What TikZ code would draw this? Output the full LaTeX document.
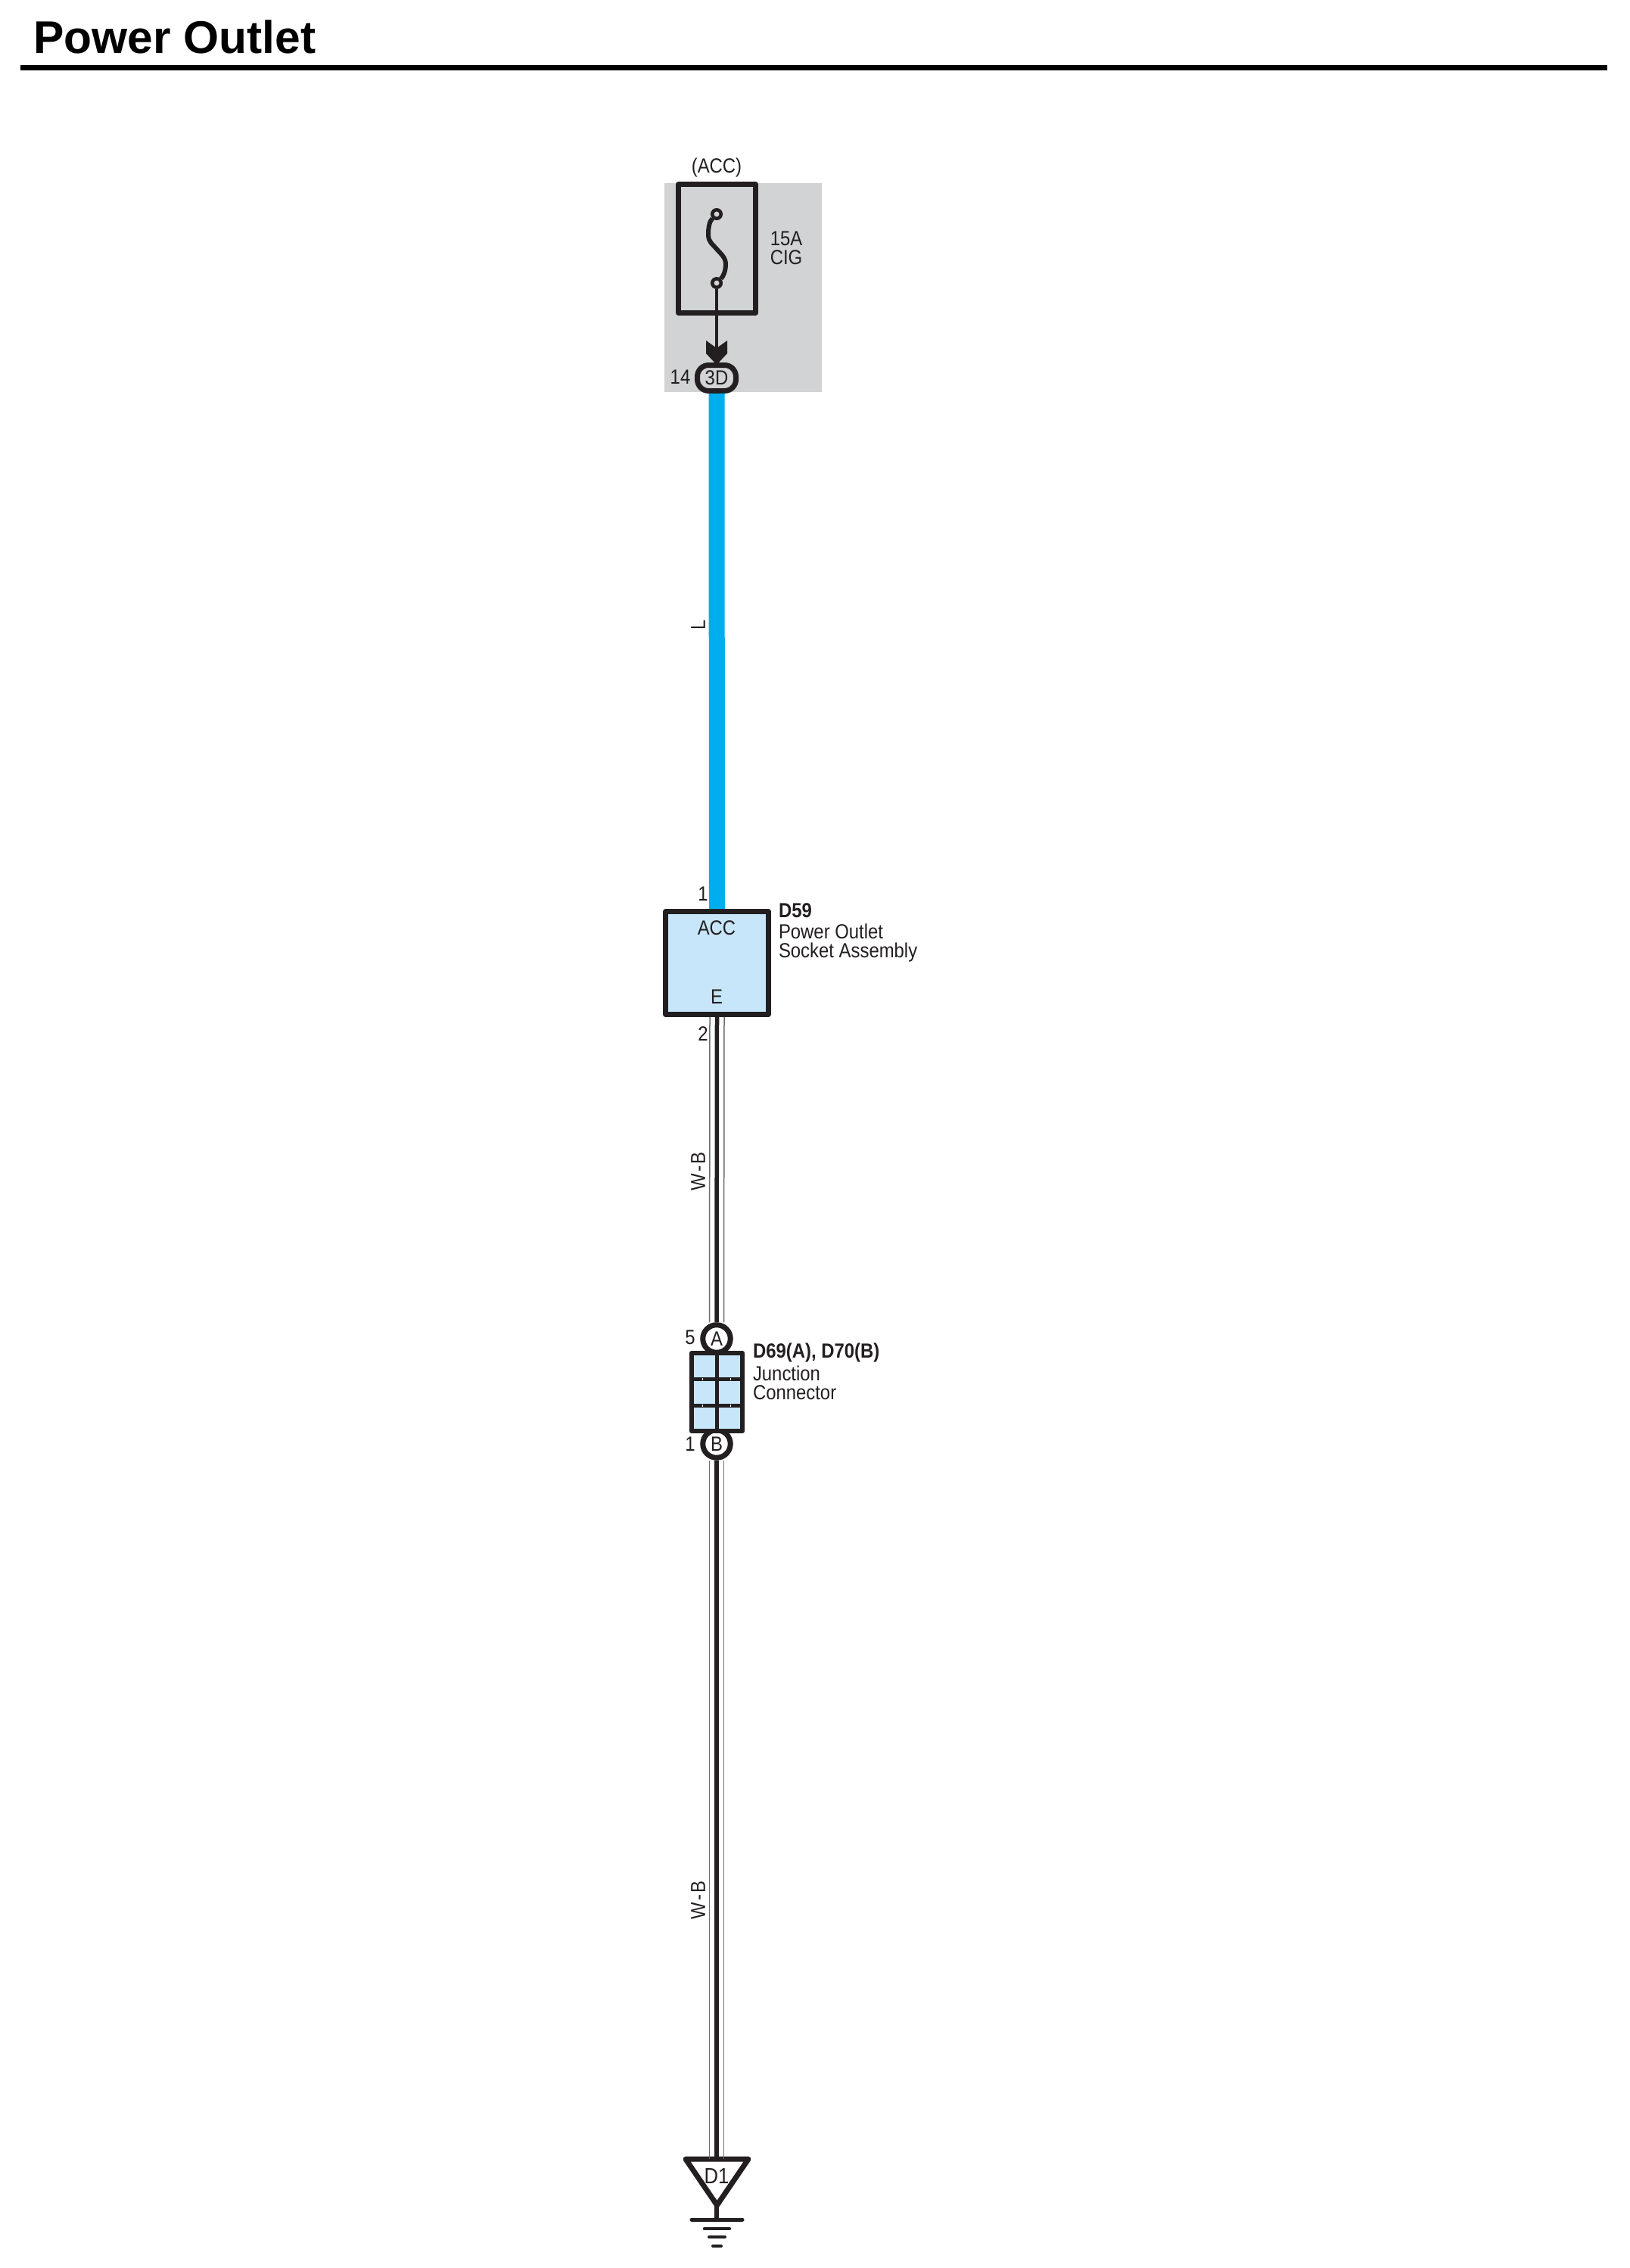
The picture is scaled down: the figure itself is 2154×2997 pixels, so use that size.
\documentclass[tikz,border=0pt]{standalone}
\usepackage{fontspec}
\setmainfont{Liberation Sans}[FakeStretch=0.885]
\newfontfamily\titlefont{Liberation Sans}
\definecolor{ink}{HTML}{231F20}
\definecolor{panel}{HTML}{D1D3D4}
\definecolor{bluewire}{HTML}{00AEEF}
\definecolor{compfill}{HTML}{C7E6FA}
\definecolor{wireedge}{HTML}{6D6E71}
\tikzset{
  lab/.style={inner sep=0pt,outer sep=0pt,text=ink,font=\fontsize{27}{27}\selectfont},
  labb/.style={lab,font=\fontsize{27}{27}\selectfont\bfseries},
  box/.style={draw=ink,line width=7pt,line join=round,inner sep=0pt,rectangle},
  wirecore/.style={draw=ink,line width=5.5pt},
  wireouter/.style={draw=wireedge,line width=1.5pt},
  pin/.style={circle,draw=ink,line width=7pt,fill=white,minimum size=36.5pt,inner sep=0pt,text=ink,font=\fontsize{27}{27}\selectfont},
  fusepin/.style={circle,draw=ink,line width=4.5pt,minimum size=11.5pt,inner sep=0pt},
  groundbar/.style={draw=ink,line cap=round},
}
\newcommand{\wbwire}[2]{%
  \draw[wireouter] ([xshift=-9.5pt]#1) -- ([xshift=-9.5pt]#2);
  \draw[wireouter] ([xshift=9.5pt]#1) -- ([xshift=9.5pt]#2);
  \draw[wirecore] (#1) -- (#2);
}
\begin{document}
\begin{tikzpicture}[x=1pt,y=-1pt]
\useasboundingbox (0,0) rectangle (2154,2997);
\fill[white] (0,0) rectangle (2154,2997);

% title
\node[anchor=base west,inner sep=0pt,text=black,font=\fontsize{60.5}{61}\titlefont\bfseries] (title) at (44,71) {Power Outlet};
\coordinate (ruleL) at (27,89.5);
\coordinate (ruleR) at (2124,89.5);
\draw[black,line width=7pt] (ruleL) -- (ruleR);

% panel and fuse
\node[rectangle,fill=panel,minimum width=208pt,minimum height=276pt,inner sep=0pt,outer sep=0pt] (panel) at (982,380) {};
\node[box,minimum width=102pt,minimum height=170pt] (fuse) at (947.5,328.5) {};
\node[lab,anchor=base] (acc) at (947,228) {(ACC)};
\node[lab,anchor=base] (a15) at (1039,324) {15A};
\node[lab,anchor=base] (cig) at (1039,349) {CIG};
\node[fusepin] (ft) at (947,283) {};
\node[fusepin] (fb) at (947,374) {};
\draw[ink,line width=6pt] (ft.225) .. controls (937,293) and (936,302) .. (936,310) .. controls (936,320) and (942,323) .. (947,329) .. controls (952,335) and (959,340) .. (959,349) .. controls (959,358) and (956,365) .. (fb.45);

% connector 3D
\node[rectangle,draw=ink,line width=7pt,rounded corners=15pt,minimum width=51pt,minimum height=34pt,inner sep=0pt,text=ink,font=\fontsize{27}{27}\selectfont] (c3d) at (947,499.5) {3D};
\node[lab] (p14) at (899,498.5) {14};
\coordinate (arrowneck) at (947,460);
\draw[ink,line width=4.7pt] (fb.south) -- (arrowneck);
\fill[ink] (933,450) -- (947,460) -- (961,450) -- (961,467) -- (947,482) -- (933,467) -- cycle;

% component D59
\node[box,fill=compfill,minimum width=136pt,minimum height=136pt] (d59) at (947.5,1272.5) {};
\node[lab] (accpin) at (947,1226) {ACC};
\node[lab] (epin) at (947,1317) {E};
\node[labb,anchor=base west] (d59a) at (1029,1212) {D59};
\node[lab,anchor=base west] (d59b) at (1029,1240) {Power Outlet};
\node[lab,anchor=base west] (d59c) at (1029,1265) {Socket Assembly};
\node[lab] (p1) at (929,1181) {1};
\node[lab] (p2) at (929,1366) {2};
\draw[bluewire,line width=21pt] (c3d.south) -- (d59.north);
\node[lab,rotate=90] (wl) at (922.5,825.5) {L};

% junction connector
\node[pin] (pa) at (947,1769) {A};
\node[pin] (pb) at (947,1908) {B};
\node[box,line width=6pt,fill=compfill,minimum width=67.5pt,minimum height=103pt] (jc) at (947.5,1839.5) {};
\draw[ink,line width=5pt] (jc.north) -- (jc.south);
\coordinate (h1a) at (jc.west |- 0,1822);
\coordinate (h1b) at (jc.east |- 0,1822);
\coordinate (h2a) at (jc.west |- 0,1857);
\coordinate (h2b) at (jc.east |- 0,1857);
\draw[ink,line width=5pt] (h1a) -- (h1b);
\draw[ink,line width=5pt] (h2a) -- (h2b);
\foreach \yy in {1822,1857} \foreach \xx in {928,965}
  \draw[white,line width=0.8pt] (\xx,\yy-1.5) -- (\xx,\yy+1.5);
\node[labb,anchor=base west] (jca) at (995,1794) {D69(A), D70(B)};
\node[lab,anchor=base west] (jcb) at (995,1824) {Junction};
\node[lab,anchor=base west] (jcc) at (995,1849) {Connector};
\node[lab] (p5) at (912,1767) {5};
\node[lab] (p1b) at (912,1908) {1};

% ground
\coordinate (gc) at (947,2853);
\fill[white] (906,2853) -- (989,2853) -- (947.5,2914) -- cycle;
\draw[ink,line width=7pt,line join=round] (906,2853) -- (989,2853) -- (947.5,2914) -- cycle;
\node[lab,font=\fontsize{29}{29}\selectfont] (d1) at (947,2875) {D1};
\coordinate (gapex) at (947,2914);
\coordinate (gbar) at (947,2933);
\draw[ink,line width=5.5pt] (gapex) -- (gbar);
\draw[groundbar,line width=5pt] (914,2933) -- (981,2933);
\draw[groundbar,line width=4.5pt] (931,2945) -- (964,2945);
\draw[groundbar,line width=4pt] (937,2956) -- (958,2956);
\draw[groundbar,line width=4pt] (942,2968) -- (953,2968);

% wires
\wbwire{d59.south}{pa.north}
\wbwire{pb.south}{gc}
\node[lab,rotate=90] (wb1) at (922.5,1548) {W\kern2pt-\kern2pt B};
\node[lab,rotate=90] (wb2) at (922.5,2511) {W\kern2pt-\kern2pt B};
\end{tikzpicture}
\end{document}
